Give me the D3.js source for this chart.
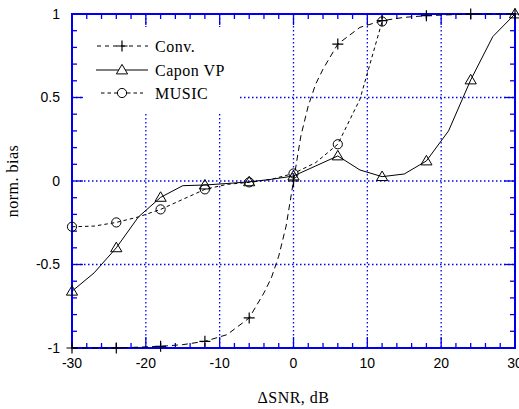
<!DOCTYPE html>
<html>
<head>
<meta charset="utf-8">
<script src="https://cdn.jsdelivr.net/npm/d3@7"></script>
<style>
  html, body { margin: 0; padding: 0; background: #fff; }
  svg { display: block; }
  .tick-label { font-family: "Liberation Sans", Arial, sans-serif; font-size: 14px; fill: #000; }
  .serif { font-family: "Liberation Serif", "Times New Roman", serif; font-size: 16px; fill: #000; letter-spacing: 0.5px; }
</style>
</head>
<body>
<svg id="chart" width="519" height="409"></svg>
<script>
// Axis ticks and labels
const xTicks = [-30, -20, -10, 0, 10, 20, 30];
const xTickLabels = ["-30", "-20", "-10", "0", "10", "20", "30"];
const xMinor = [-28, -26, -24, -22, -18, -16, -14, -12, -8, -6, -4, -2, 2, 4, 6, 8, 12, 14, 16, 18, 22, 24, 26, 28];
const yTicks = [-1, -0.5, 0, 0.5, 1];
const yTickLabels = ["-1", "-0.5", "0", "0.5", "1"];
const yMinor = [-0.9, -0.8, -0.7, -0.6, -0.4, -0.3, -0.2, -0.1, 0.1, 0.2, 0.3, 0.4, 0.6, 0.7, 0.8, 0.9];

// Conventional beamformer
const convSNR  = [-30, -24, -18, -15, -12, -9, -6, -4, -3, -2, -1, 0, 1, 2, 3, 4, 6, 9, 12, 15, 18, 24, 30];
const convBias = [-1, -1, -0.99, -0.98, -0.96, -0.92, -0.82, -0.67, -0.58, -0.45, -0.27, 0, 0.27, 0.45, 0.58, 0.67, 0.82, 0.92, 0.96, 0.98, 0.99, 1, 1];

// Capon VP
const caponSNR  = [-30, -27, -24, -21, -18, -15, -12, -9, -6, -3, 0, 3, 6, 9, 12, 15, 18, 21, 24, 27, 30];
const caponBias = [-0.66, -0.55, -0.40, -0.215, -0.098, -0.028, -0.024, -0.015, -0.005, 0.01, 0.03, 0.09, 0.15, 0.066, 0.026, 0.042, 0.12, 0.30, 0.605, 0.865, 1.0];

// MUSIC
const musicSNR  = [-30, -27, -24, -21, -18, -15, -12, -9, -6, -3, 0, 3, 6, 9, 12];
const musicBias = [-0.274, -0.27, -0.248, -0.215, -0.17, -0.11, -0.05, -0.02, -0.008, 0.01, 0.045, 0.11, 0.22, 0.49, 0.955];

const legendNames = ["Conv.", "Capon VP", "MUSIC"];

const blue = "#0000ee";
const svg = d3.select("#chart");
const margin = { left: 72, right: 4, top: 14, bottom: 61 };
const W = 519, H = 409;

const x = d3.scaleLinear().domain([-30, 30]).range([margin.left, W - margin.right]);
const y = d3.scaleLinear().domain([-1, 1]).range([H - margin.bottom, margin.top]);
const [x0, x1] = x.range();
const [y0, y1] = y.range(); // y0 bottom, y1 top

// dotted grid
const grid = svg.append("g").attr("stroke", blue).attr("stroke-width", 1.3)
  .attr("stroke-dasharray", "1.5,2.5");
grid.selectAll("line.gx").data(xTicks.slice(1, -1)).join("line")
  .attr("x1", d => x(d)).attr("x2", d => x(d)).attr("y1", y1).attr("y2", y0);
grid.selectAll("line.gy").data(yTicks.slice(1, -1)).join("line")
  .attr("y1", d => y(d)).attr("y2", d => y(d)).attr("x1", x0).attr("x2", x1);

// legend background hides the grid behind it
svg.append("rect").attr("x", 82).attr("y", 27).attr("width", 158).attr("height", 85).attr("fill", "#fff");

// ticks (inward on all four sides)
const ticks = svg.append("g").attr("stroke", blue).attr("stroke-width", 1.3);
function tickSet(vals, len) {
  vals.forEach(v => {
    ticks.append("line").attr("x1", x(v)).attr("x2", x(v)).attr("y1", y0).attr("y2", y0 - len);
    ticks.append("line").attr("x1", x(v)).attr("x2", x(v)).attr("y1", y1).attr("y2", y1 + len);
  });
}
function tickSetY(vals, len) {
  vals.forEach(v => {
    ticks.append("line").attr("y1", y(v)).attr("y2", y(v)).attr("x1", x0).attr("x2", x0 + len);
    ticks.append("line").attr("y1", y(v)).attr("y2", y(v)).attr("x1", x1).attr("x2", x1 - len);
  });
}
tickSet(xMinor, 5);
tickSet(xTicks, 11);
tickSetY(yMinor, 5);
tickSetY(yTicks, 11);

// frame
svg.append("rect").attr("x", x0).attr("y", y1).attr("width", x1 - x0).attr("height", y0 - y1)
  .attr("fill", "none").attr("stroke", blue).attr("stroke-width", 2);

// tick labels
svg.selectAll("text.xl").data(xTicks).join("text").attr("class", "tick-label")
  .attr("x", d => x(d)).attr("y", y0 + 20).attr("text-anchor", "middle")
  .text((d, i) => xTickLabels[i]);
svg.selectAll("text.yl").data(yTicks).join("text").attr("class", "tick-label")
  .attr("x", x0 - 12).attr("y", d => y(d)).attr("dy", "0.35em").attr("text-anchor", "end")
  .text((d, i) => yTickLabels[i]);

// axis titles
svg.append("text").attr("class", "serif").attr("text-anchor", "middle")
  .attr("x", (x0 + x1) / 2).attr("y", 403).text("\u0394SNR, dB");
svg.append("text").attr("class", "serif").attr("text-anchor", "middle")
  .attr("transform", `translate(18,${(y0 + y1) / 2}) rotate(-90)`).text("norm. bias");

// series
const line = d3.line().x(d => x(d[0])).y(d => y(d[1]));
const zip = (a, b) => a.map((v, i) => [v, b[i]]);
const convData = zip(convSNR, convBias);
const caponData = zip(caponSNR, caponBias);
const musicData = zip(musicSNR, musicBias);
const onMarker = d => d[0] % 6 === 0;

const series = [
  { data: musicData, dash: "3.5,3", marker: "circle" },
  { data: caponData, dash: null, marker: "triangle" },
  { data: convData, dash: "6,4", marker: "plus" }
];

function drawMarker(g, type, cx, cy, fill) {
  if (type === "circle") {
    g.append("circle").attr("cx", cx).attr("cy", cy).attr("r", 4.6)
      .attr("fill", fill).attr("stroke", "#000").attr("stroke-width", 1);
  } else if (type === "triangle") {
    const s = 5.6;
    g.append("path").attr("d", `M${cx},${cy - s} L${cx + s},${cy + s * 0.7} L${cx - s},${cy + s * 0.7} Z`)
      .attr("fill", fill).attr("stroke", "#000").attr("stroke-width", 1);
  } else {
    const s = 5.5;
    g.append("path").attr("d", `M${cx - s},${cy} H${cx + s} M${cx},${cy - s} V${cy + s}`)
      .attr("stroke", "#000").attr("stroke-width", 1.2);
  }
}

series.forEach(s => {
  svg.append("path").attr("d", line(s.data)).attr("fill", "none").attr("stroke", "#000")
    .attr("stroke-width", 1).attr("stroke-dasharray", s.dash);
});
series.forEach(s => {
  const g = svg.append("g");
  s.data.filter(onMarker).forEach(d => drawMarker(g, s.marker, x(d[0]), y(d[1]), "none"));
});

// legend
const legendRows = [
  { name: legendNames[0], dash: "4,4", marker: "plus", y: 46, x1: 97, x2: 148 },
  { name: legendNames[1], dash: null, marker: "triangle", y: 70, x1: 96, x2: 148 },
  { name: legendNames[2], dash: "3.5,3", marker: "circle", y: 93, x1: 101, x2: 143 }
];
const lg = svg.append("g");
legendRows.forEach(r => {
  lg.append("line").attr("x1", r.x1).attr("x2", r.x2).attr("y1", r.y).attr("y2", r.y)
    .attr("stroke", "#000").attr("stroke-width", 1).attr("stroke-dasharray", r.dash);
  drawMarker(lg, r.marker, 122, r.y, "#fff");
  lg.append("text").attr("class", "serif").attr("x", 155).attr("y", r.y).attr("dy", "0.35em").text(r.name);
});
</script>
</body>
</html>
